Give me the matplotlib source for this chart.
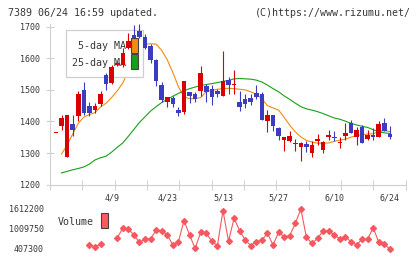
import numpy as np
import matplotlib
matplotlib.use("Agg")
import matplotlib.pyplot as plt
from matplotlib.patches import Rectangle
from matplotlib.ticker import FixedLocator

# ---------------- data ----------------
opens = [1366, 1386, 1287, 1393, 1416, 1500, 1449, 1435, 1454, 1547,
         1521, 1578, 1578, 1634, 1675, 1686, 1668, 1638, 1596, 1517,
         1461, 1474, 1437, 1429, 1493, 1488, 1495, 1511, 1504, 1496,
         1482, 1530, 1517, 1461, 1470, 1474, 1490, 1486, 1403, 1419,
         1380, 1342, 1339, 1329, 1318, 1329, 1299, 1339, 1310, 1352,
         1352, 1331, 1355, 1396, 1350, 1384, 1346, 1358, 1350, 1395,
         1361]
highs = [1366, 1421, 1421, 1421, 1498, 1526, 1463, 1458, 1495, 1555,
         1579, 1590, 1634, 1681, 1705, 1709, 1676, 1646, 1599, 1525,
         1479, 1482, 1447, 1527, 1493, 1493, 1575, 1520, 1514, 1504,
         1623, 1541, 1564, 1496, 1486, 1486, 1514, 1493, 1435, 1419,
         1384, 1350, 1371, 1346, 1334, 1339, 1337, 1360, 1337, 1374,
         1371, 1352, 1394, 1406, 1381, 1390, 1374, 1380, 1403, 1410,
         1387]
lows = [1366, 1374, 1287, 1353, 1400, 1421, 1416, 1428, 1449, 1500,
        1519, 1575, 1573, 1628, 1640, 1665, 1630, 1585, 1512, 1461,
        1445, 1445, 1416, 1425, 1458, 1461, 1482, 1461, 1451, 1477,
        1482, 1488, 1488, 1432, 1443, 1451, 1472, 1406, 1366, 1371,
        1341, 1307, 1334, 1305, 1276, 1304, 1286, 1326, 1299, 1342,
        1339, 1315, 1342, 1362, 1325, 1331, 1342, 1342, 1350, 1371,
        1346]
closes = [1366, 1410, 1421, 1372, 1487, 1428, 1428, 1449, 1487, 1518,
          1574, 1586, 1618, 1655, 1655, 1668, 1633, 1594, 1527, 1469,
          1477, 1456, 1426, 1527, 1482, 1472, 1553, 1493, 1477, 1486,
          1527, 1517, 1520, 1447, 1454, 1461, 1479, 1406, 1422, 1387,
          1353, 1350, 1355, 1331, 1331, 1320, 1326, 1345, 1334, 1358,
          1347, 1333, 1365, 1362, 1374, 1331, 1358, 1350, 1392, 1371,
          1350]

ma5 = [np.nan, 1297, 1325, 1360, 1394, 1414, 1422, 1428, 1446, 1458,
       1476, 1497, 1522, 1560, 1600, 1635, 1645, 1646, 1645, 1625,
       1595, 1555, 1510, 1478, 1472, 1472, 1476, 1494, 1498, 1502,
       1504, 1505, 1504, 1502, 1500, 1494, 1486, 1472, 1450, 1443,
       1436, 1413, 1388, 1367, 1351, 1340, 1335, 1331, 1331, 1332,
       1337, 1341, 1344, 1350, 1355, 1358, 1360, 1361, 1368, 1371,
       1368]
ma25 = [np.nan, 1237, 1242, 1247, 1251, 1256, 1265, 1278, 1285, 1290,
        1303, 1318, 1332, 1353, 1375, 1397, 1415, 1433, 1447, 1460,
        1470, 1480, 1489, 1497, 1504, 1509, 1514, 1517, 1520, 1523,
        1527, 1530, 1535, 1536, 1535, 1534, 1531, 1525, 1515, 1504,
        1494, 1481, 1470, 1458, 1447, 1440, 1436, 1431, 1425, 1418,
        1411, 1407, 1401, 1394, 1389, 1385, 1381, 1374, 1367, 1364,
        1362]

volume = [np.nan, np.nan, np.nan, np.nan, np.nan, np.nan, 528000, 478000, 548000, np.nan,
          np.nan, 749000, 1030000, 1010000, 829000, 608000, 709000, 709000, 980000, 960000,
          829000, 528000, 628000, 1261000, 829000, 427000, 909000, 879000, 648000, 508000,
          1562000, 648000, 1331000, 960000, 678000, 508000, 628000, 678000, 879000, 528000,
          909000, 779000, 809000, 1180000, 1612200, 759000, 578000, 729000, 950000, 960000,
          829000, 709000, 779000, 628000, 528000, 699000, 709000, 1050000, 608000, 548000,
          407300]

date_labels = ["4/9", "4/23", "5/13", "5/27", "6/10", "6/24"]
date_label_idx = [10, 20, 30, 40, 50, 60]
price_ticks = [1200, 1300, 1400, 1500, 1600, 1700]
vol_ticks = [407300, 1009750, 1612200]

title_left = "7389 06/24 16:59 updated."
title_right = "(C)https://www.rizumu.net/"

# ---------------- style ----------------
RED = "#d80000"
BLUE = "#3c3cc0"
ORANGE = "#f08c10"
GREEN = "#18a018"
VOLC = "#f5585f"
AXC = "#d0d0d0"
TXT = "#383838"
MONO = "DejaVu Sans Mono"

W, H = 420, 259
fig = plt.figure(figsize=(4.2, 2.59), dpi=100)
fig.patch.set_facecolor("white")


def fx(x):
    return x / W


def fy(y):
    return 1 - y / H


x0, x1 = -1.08, 62.84
ax = fig.add_axes([fx(50), fy(184.6), fx(405.7) - fx(50), fy(23.6) - fy(184.6)])
ax.set_xlim(x0, x1)
ax.set_ylim(1200, 1710)
ax.patch.set_alpha(0)

o = np.array(opens, float)
h = np.array(highs, float)
l = np.array(lows, float)
c = np.array(closes, float)
idx = np.arange(len(o))
cols = np.where(c >= o, RED, BLUE)

# MA lines (beneath legend box and candles)
ax.plot(idx, ma5, color=ORANGE, lw=0.8, zorder=1)
ax.plot(idx, ma25, color=GREEN, lw=0.8, zorder=1)

# candles
ax.vlines(idx, l, h, colors=cols, lw=0.8, zorder=4)
diff = np.abs(c - o)
minh = 3.0
bottom = np.where(diff < minh, (o + c) / 2 - minh / 2, np.minimum(o, c))
height = np.maximum(diff, minh)
ax.bar(idx, height, bottom=bottom, width=0.82, color=cols, linewidth=0, zorder=4)

# spines/ticks
for s in ("top", "right"):
    ax.spines[s].set_visible(False)
for s in ("left", "bottom"):
    ax.spines[s].set_color(AXC)
    ax.spines[s].set_linewidth(0.8)

ax.set_yticks(price_ticks)
ax.set_yticklabels([str(v) for v in price_ticks])
ax.tick_params(axis="y", direction="inout", length=5.8, width=0.75, color=AXC,
               labelsize=6, labelcolor=TXT, pad=4.3)
ax.set_xticks(date_label_idx)
ax.set_xticklabels(date_labels)
ax.tick_params(axis="x", which="major", length=0, labelsize=6, labelcolor=TXT, pad=6.5)
ax.xaxis.set_minor_locator(FixedLocator(np.linspace(x0, x1, 12)))
ax.tick_params(axis="x", which="minor", direction="inout", length=6.5, width=0.75, color=AXC)
for lab in ax.get_xticklabels() + ax.get_yticklabels():
    lab.set_family(MONO)

# legend (manual, for layering like the reference)
ax.add_patch(Rectangle((fx(66), fy(77.3)), fx(143.3) - fx(66), fy(30) - fy(77.3),
                       transform=fig.transFigure, facecolor="white", edgecolor="#cfcfcf",
                       lw=0.9, zorder=2, clip_on=False))
ax.text(fx(126), fy(45.7), "5-day MA", transform=fig.transFigure, ha="right", va="center",
        fontsize=7.2, family=MONO, color=TXT, zorder=3)
ax.text(fx(126), fy(62.5), "25-day MA", transform=fig.transFigure, ha="right", va="center",
        fontsize=7.2, family=MONO, color=TXT, zorder=3)
ax.add_patch(Rectangle((fx(131), fy(52.7)), fx(138) - fx(131), fy(38) - fy(52.7),
                       transform=fig.transFigure, facecolor=ORANGE, edgecolor="#444444",
                       lw=0.8, zorder=5, clip_on=False))
ax.add_patch(Rectangle((fx(131), fy(69.3)), fx(138) - fx(131), fy(54.3) - fy(69.3),
                       transform=fig.transFigure, facecolor=GREEN, edgecolor="#444444",
                       lw=0.8, zorder=5, clip_on=False))

# volume panel
axv = fig.add_axes([fx(50), fy(249), fx(405.7) - fx(50), fy(209) - fy(249)])
axv.set_xlim(x0, x1)
axv.set_ylim(407300, 1612200)
axv.patch.set_alpha(0)
axv.plot(idx, volume, color=VOLC, lw=0.8, marker="D", ms=3.0, mec=VOLC, mfc=VOLC,
         clip_on=False)
for s in axv.spines.values():
    s.set_visible(False)
axv.set_xticks([])
axv.set_yticks(vol_ticks)
axv.set_yticklabels([str(v) for v in vol_ticks])
axv.tick_params(axis="y", length=0, pad=4.3, labelsize=6, labelcolor=TXT)
for lab in axv.get_yticklabels():
    lab.set_family(MONO)

fig.text(fx(58), fy(222), "Volume", ha="left", va="center", fontsize=7.2,
         family=MONO, color=TXT)
fig.patches.append(Rectangle((fx(101), fy(228.3)), fx(107.7) - fx(101), fy(212.7) - fy(228.3),
                             transform=fig.transFigure, facecolor="#ff5a60",
                             edgecolor="#444444", lw=0.8))

# header texts
fig.text(fx(8), fy(12.7), title_left, ha="left", va="center", fontsize=7.2,
         family=MONO, color=TXT)
fig.text(fx(411), fy(12.7), title_right, ha="right", va="center", fontsize=7.2,
         family=MONO, color=TXT)

fig.savefig("out.png", dpi=100, facecolor="white")
